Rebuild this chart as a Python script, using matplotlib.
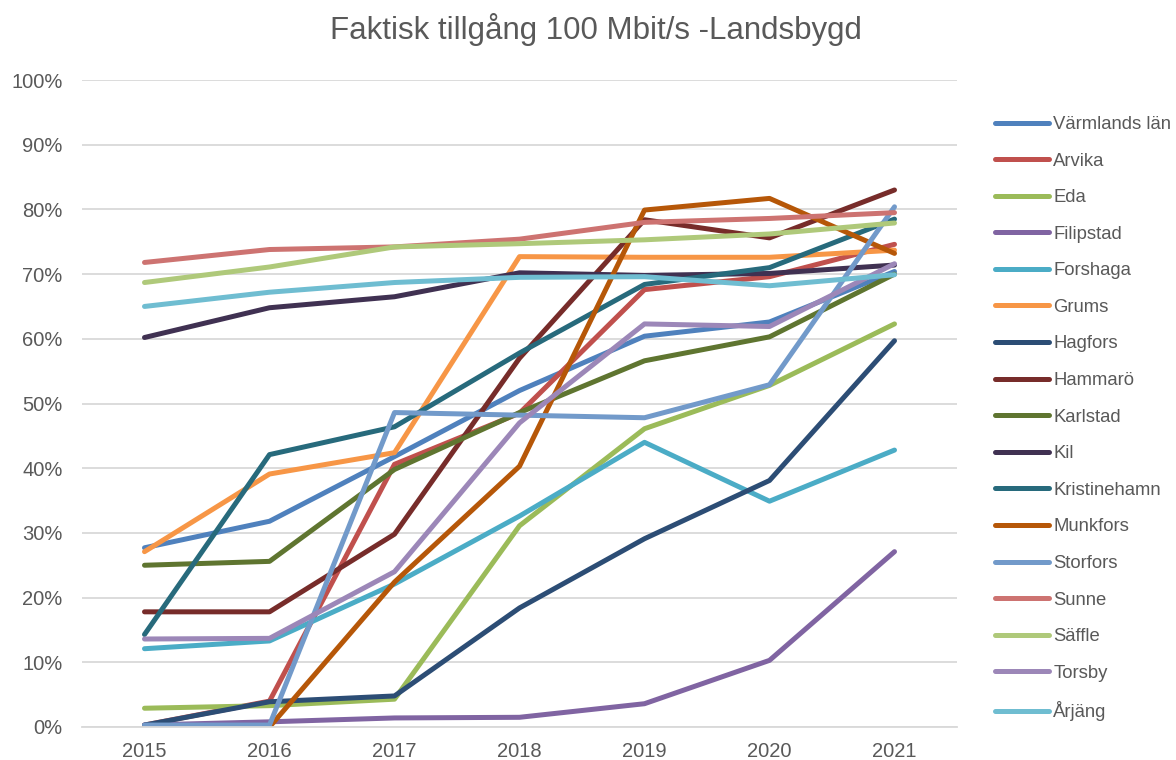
import matplotlib.pyplot as plt
from matplotlib.ticker import PercentFormatter

plt.rcParams['font.family'] = ['Liberation Sans', 'DejaVu Sans']

years = ['2015', '2016', '2017', '2018', '2019', '2020', '2021']

names = ['Värmlands län', 'Arvika', 'Eda', 'Filipstad', 'Forshaga', 'Grums',
         'Hagfors', 'Hammarö', 'Karlstad', 'Kil', 'Kristinehamn', 'Munkfors',
         'Storfors', 'Sunne', 'Säffle', 'Torsby', 'Årjäng']

varmland = [27.7, 31.8, 41.8, 52.0, 60.4, 62.6, 70.4]
arvika = [0.3, 4.0, 40.6, 48.5, 67.6, 69.6, 74.6]
eda = [2.9, 3.3, 4.3, 31.1, 46.1, 52.8, 62.3]
filipstad = [0.3, 0.8, 1.4, 1.5, 3.6, 10.3, 27.1]
forshaga = [12.1, 13.3, 22.1, 32.6, 44.0, 34.9, 42.8]
grums = [27.1, 39.1, 42.4, 72.7, 72.6, 72.6, 73.7]
hagfors = [0.3, 3.9, 4.8, 18.4, 29.1, 38.1, 59.7]
hammaro = [17.8, 17.8, 29.8, 57.0, 78.4, 75.6, 83.0]
karlstad = [25.0, 25.6, 39.8, 48.6, 56.6, 60.3, 70.0]
kil = [60.2, 64.8, 66.5, 70.2, 69.8, 70.1, 71.4]
kristinehamn = [14.3, 42.1, 46.4, 57.8, 68.4, 71.0, 78.5]
munkfors = [0.0, 0.0, 22.4, 40.3, 79.9, 81.7, 73.2]
storfors = [0.3, 0.3, 48.6, 48.2, 47.8, 52.9, 80.4]
sunne = [71.8, 73.8, 74.2, 75.4, 78.0, 78.6, 79.5]
saffle = [68.7, 71.1, 74.2, 74.7, 75.3, 76.2, 77.9]
torsby = [13.6, 13.7, 24.0, 47.0, 62.3, 61.9, 71.6]
arjang = [65.0, 67.2, 68.7, 69.5, 69.6, 68.2, 69.9]

series = [varmland, arvika, eda, filipstad, forshaga, grums, hagfors, hammaro,
          karlstad, kil, kristinehamn, munkfors, storfors, sunne, saffle,
          torsby, arjang]

colors = ['#4F81BD', '#C0504D', '#9BBB59', '#8064A2', '#4BACC6', '#F79646',
          '#2C4D75', '#772C2A', '#5F7530', '#403152', '#276A7C', '#B65708',
          '#729ACA', '#CD7371', '#AFC97A', '#9C87B8', '#6FBDD1']

gray = '#595959'

fig = plt.figure(figsize=(11.76, 7.6), dpi=100)
ax = fig.add_axes([82 / 1176, 1 - 727 / 760, (957 - 82) / 1176, (727 - 80) / 760])

x = list(range(len(years)))
for name, vals, c in zip(names, series, colors):
    ax.plot(x, [v / 100 for v in vals], color=c, lw=3.6, label=name,
            solid_capstyle='round', solid_joinstyle='round')

ax.set_xlim(-0.5, len(years) - 0.5)
ax.set_ylim(0, 1)
ax.set_xticks(x)
ax.set_xticklabels(years)
ax.set_yticks([i / 10 for i in range(11)])
ax.yaxis.set_major_formatter(PercentFormatter(1.0, decimals=0))
ax.grid(axis='y', color='#D9D9D9', lw=1.3)
ax.set_axisbelow(True)
for s in ['top', 'right', 'left']:
    ax.spines[s].set_visible(False)
ax.spines['bottom'].set_color('#D9D9D9')
ax.spines['bottom'].set_linewidth(1.3)
ax.tick_params(length=0, labelsize=14.5, colors=gray)
ax.tick_params(axis='x', pad=11)
ax.tick_params(axis='y', pad=14)

fig.text(596 / 1176, 1 - 30 / 760, 'Faktisk tillgång 100 Mbit/s -Landsbygd',
         ha='center', va='center', fontsize=22.5, color=gray)

leg = fig.legend(loc='upper left', bbox_to_anchor=(995 / 1176, 1 - 116 / 760),
                 frameon=False, fontsize=13.3, handlelength=2.9,
                 handletextpad=0.25, labelspacing=1.06, borderpad=0,
                 borderaxespad=0)
for t in leg.get_texts():
    t.set_color(gray)

fig.savefig('out.png', dpi=100)
